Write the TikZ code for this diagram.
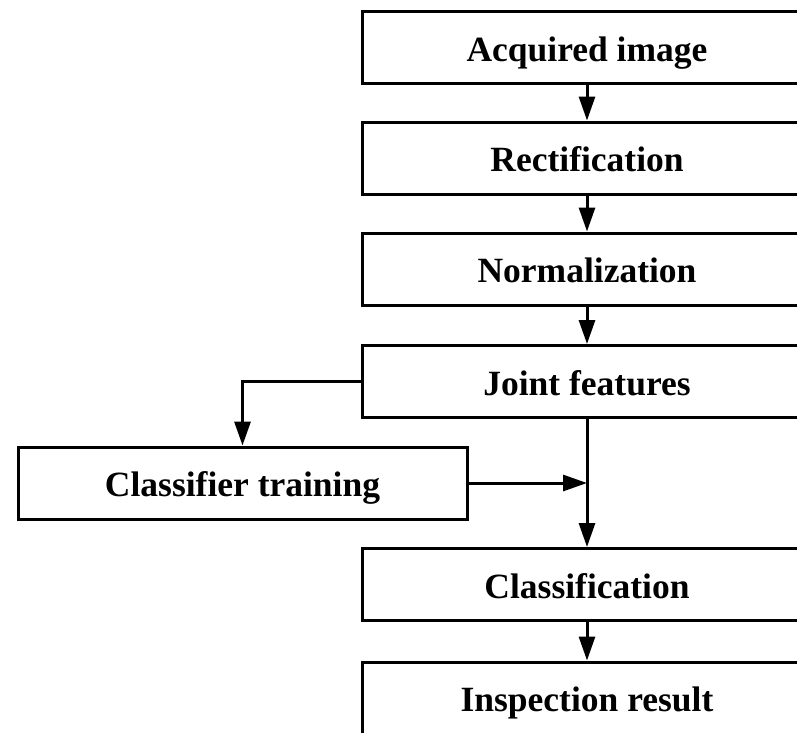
\documentclass[tikz,border=0pt]{standalone}
\usepackage{fontspec}
\setmainfont{Liberation Serif}
\usetikzlibrary{arrows.meta}
\tikzset{
  box/.style={draw=black, line width=3pt, fill=white, minimum height=72pt, inner sep=0pt,
    text height=27pt, text depth=0pt,
    font=\fontsize{35.5}{40}\selectfont\bfseries},
  mainbox/.style={box, minimum width=450pt},
  sidebox/.style={box, minimum width=449pt},
  conn/.style={draw=black, line width=3pt, -{Triangle[length=24pt,width=16pt]}}
}
\begin{document}
\begin{tikzpicture}[x=1pt,y=-1pt]
\useasboundingbox (0,0) rectangle (797,732);
\clip (0,0) rectangle (797,732);
\node[mainbox] (acq) at (587,47.5) {Acquired image};
\node[mainbox] (rect) at (587,158) {Rectification};
\node[mainbox] (norm) at (587,269) {Normalization};
\node[mainbox] (joint) at (587,381.5) {Joint features};
\node[sidebox] (clf) at (242.5,483) {Classifier training};
\node[mainbox] (cls) at (587,584.5) {Classification};
\node[mainbox] (insp) at (587,698) {Inspection result};
\coordinate (meet) at (clf.east -| joint.south);
\draw[conn] (acq) -- (rect);
\draw[conn] (rect) -- (norm);
\draw[conn] (norm) -- (joint);
\draw[conn] (joint.west) -| (clf.north);
\draw[conn] (joint.south) -- (cls.north);
\draw[conn] (clf.east) -- (meet);
\draw[conn] (cls) -- (insp);
\end{tikzpicture}
\end{document}
